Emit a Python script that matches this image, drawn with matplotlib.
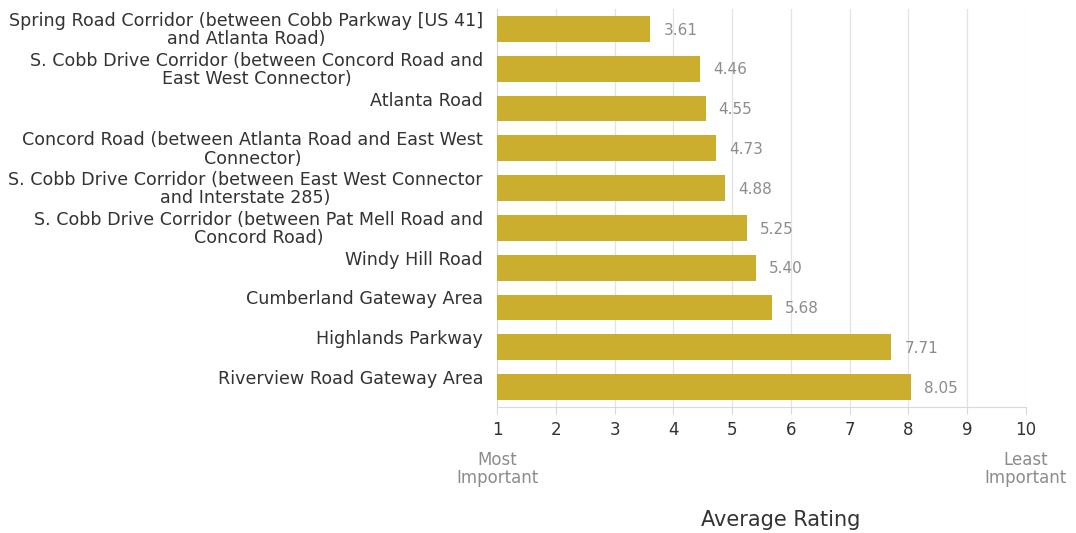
import matplotlib
matplotlib.use("Agg")
import matplotlib.pyplot as plt
import matplotlib.transforms as mtransforms

plt.rcParams['font.family'] = ['DejaVu Sans']

categories = [
    "Spring Road Corridor (between Cobb Parkway [US 41]\nand Atlanta Road)",
    "S. Cobb Drive Corridor (between Concord Road and\nEast West Connector)",
    "Atlanta Road",
    "Concord Road (between Atlanta Road and East West\nConnector)",
    "S. Cobb Drive Corridor (between East West Connector\nand Interstate 285)",
    "S. Cobb Drive Corridor (between Pat Mell Road and\nConcord Road)",
    "Windy Hill Road",
    "Cumberland Gateway Area",
    "Highlands Parkway",
    "Riverview Road Gateway Area",
]
values = [3.61, 4.46, 4.55, 4.73, 4.88, 5.25, 5.40, 5.68, 7.71, 8.05]
xticks = [1, 2, 3, 4, 5, 6, 7, 8, 9, 10]

fig = plt.figure(figsize=(10.76, 5.33), dpi=100)
ax = fig.add_axes([497/1076, 1-407/533, (1026-497)/1076, 398/533])

y = list(range(len(categories)))
ax.barh(y, [v - 1 for v in values], left=1, height=0.65, color='#CBAE2E', zorder=3)
for yi, v in zip(y, values):
    ax.text(v + 0.22, yi + 0.03, f"{v:.2f}", va='center', ha='left', fontsize=11, color='#8C8C8C')

ax.set_xlim(1, 10)
ax.set_ylim(len(categories) - 0.5, -0.5)
ax.set_yticks(y)
ax.set_yticklabels([])
ax.tick_params(axis='y', length=0)

trans = mtransforms.blended_transform_factory(ax.transAxes, ax.transData)
for yi, lab in zip(y, categories):
    ax.annotate(lab, xy=(0, yi), xycoords=trans, xytext=(-14, 17),
                textcoords='offset pixels', ha='right', va='top',
                multialignment='center', fontsize=12.6, color='#333333',
                linespacing=1.02, annotation_clip=False)

ax.set_xticks(xticks)
ax.set_xticklabels([str(t) for t in xticks], fontsize=12, color='#333333')
ax.tick_params(axis='x', length=5, color='#D9D9D9', pad=5)
ax.grid(axis='x', color='#E3E3E3', linewidth=0.9, zorder=0)
for s in ['top', 'right']:
    ax.spines[s].set_visible(False)
for s in ['left', 'bottom']:
    ax.spines[s].set_color('#D9D9D9')

fig.text(ax.get_position().x0, 1-469/533, "Most\nImportant", ha='center', va='center', fontsize=12, color='#8C8C8C', linespacing=1.05)
fig.text(ax.get_position().x1, 1-469/533, "Least\nImportant", ha='center', va='center', fontsize=12, color='#8C8C8C', linespacing=1.05)
fig.text(781/1076, 1-520/533, "Average Rating", ha='center', va='center', fontsize=15, color='#333333')

fig.savefig("out.png", dpi=100)
